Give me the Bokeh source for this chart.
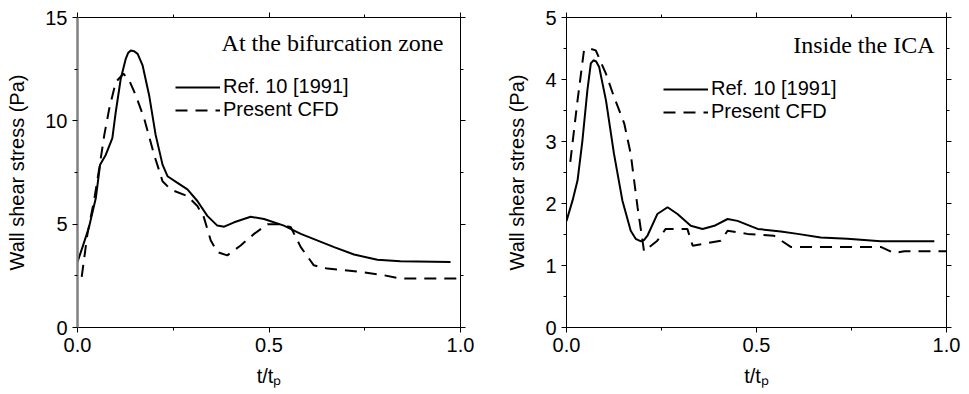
from bokeh.plotting import figure
from bokeh.models import Range1d, LinearAxis, FixedTicker, Label, Legend, LegendItem, PrintfTickFormatter
from bokeh.layouts import row
from bokeh.embed import file_html
from bokeh.resources import INLINE

# ---------------- data ----------------
# Left panel: at the bifurcation zone
bif_ref_t = [0.0, 0.015, 0.030, 0.048, 0.059, 0.074, 0.091, 0.100, 0.113, 0.126, 0.132, 0.139,
             0.148, 0.157, 0.170, 0.187, 0.204, 0.222, 0.235, 0.261, 0.287, 0.313, 0.339, 0.365,
             0.383, 0.409, 0.452, 0.487, 0.539, 0.583, 0.670, 0.722, 0.783, 0.843, 0.974]
bif_ref_w = [3.17, 4.0, 4.85, 6.28, 7.88, 8.36, 9.16, 10.44, 12.04, 13.0, 13.28, 13.40,
             13.37, 13.24, 12.68, 11.24, 9.32, 7.88, 7.32, 7.0, 6.68, 6.12, 5.40, 4.93,
             4.88, 5.09, 5.36, 5.25, 4.93, 4.53, 3.89, 3.53, 3.28, 3.20, 3.17]
bif_cfd_t = [0.011, 0.026, 0.043, 0.057, 0.070, 0.083, 0.100, 0.120, 0.135, 0.152, 0.174, 0.200,
             0.222, 0.243, 0.287, 0.313, 0.330, 0.348, 0.365, 0.391, 0.426, 0.461, 0.496, 0.530,
             0.557, 0.583, 0.617, 0.652, 0.739, 0.800, 0.843, 1.0]
bif_cfd_w = [2.45, 4.53, 6.12, 7.72, 9.32, 10.6, 11.88, 12.28, 11.96, 11.24, 10.12, 8.36,
             7.08, 6.68, 6.36, 5.88, 5.33, 4.21, 3.65, 3.49, 3.97, 4.53, 5.0, 5.0,
             4.85, 3.89, 3.01, 2.85, 2.69, 2.53, 2.37, 2.37]

# Right panel: inside the ICA
ica_ref_t = [0.0, 0.016, 0.029, 0.042, 0.055, 0.064, 0.071, 0.078, 0.086, 0.104, 0.125, 0.147,
             0.169, 0.182, 0.196, 0.204, 0.213, 0.239, 0.266, 0.292, 0.327, 0.358, 0.389, 0.424,
             0.450, 0.503, 0.564, 0.608, 0.669, 0.739, 0.827, 0.968]
ica_ref_w = [1.72, 2.05, 2.37, 3.02, 3.83, 4.26, 4.31, 4.29, 4.20, 3.66, 2.80, 2.05,
             1.56, 1.43, 1.39, 1.41, 1.48, 1.83, 1.94, 1.83, 1.64, 1.59, 1.64, 1.75,
             1.72, 1.59, 1.55, 1.51, 1.45, 1.43, 1.39, 1.39]
ica_cfd_t = [0.010, 0.029, 0.046, 0.060, 0.077, 0.104, 0.125, 0.152, 0.169, 0.187, 0.200, 0.204,
             0.239, 0.261, 0.318, 0.332, 0.406, 0.424, 0.476, 0.546, 0.590, 0.827, 0.862, 0.889, 1.0]
ica_cfd_w = [2.67, 3.66, 4.47, 4.50, 4.47, 4.09, 3.72, 3.29, 2.80, 1.94, 1.40, 1.23,
             1.40, 1.59, 1.59, 1.32, 1.40, 1.56, 1.51, 1.48, 1.30, 1.30, 1.20, 1.23, 1.23]

x_major = [0.0, 0.5, 1.0]
x_minor = [0.25, 0.75]
bif_y_major = [0, 5, 10, 15]
bif_y_minor = [2.5, 7.5, 12.5]
ica_y_major = [0, 1, 2, 3, 4, 5]
ica_y_minor = [0.5, 1.5, 2.5, 3.5, 4.5]

series_names = ["Ref. 10 [1991]", "Present CFD"]
y_label = "Wall shear stress (Pa)"
x_label = "t/t\u209a"
panel_titles = ["At the bifurcation zone", "Inside the ICA"]

SANS = "Liberation Sans"
SERIF = "Liberation Serif"


def style_axis(ax, show_labels=True):
    ax.major_tick_out = 5
    ax.major_tick_in = 0
    ax.minor_tick_out = 3
    ax.minor_tick_in = 0
    ax.major_tick_line_color = "black"
    ax.minor_tick_line_color = "black"
    ax.axis_line_color = "black"
    ax.major_label_text_font = SANS
    ax.major_label_text_color = "black"
    ax.major_label_text_font_size = "20px"
    if not show_labels:
        ax.major_label_standoff = 0


def make_panel(ref_t, ref_w, cfd_t, cfd_w, ymax, ymaj, ymin, title, width, borders,
               legend_loc, title_off, left_gray):
    bl, br, bt, bb = borders
    p = figure(width=width, height=394, output_backend="svg", toolbar_location=None,
               x_range=Range1d(0, 1.0), y_range=Range1d(0, ymax),
               min_border_left=bl, min_border_right=br, min_border_top=bt, min_border_bottom=bb,
               outline_line_color=None)
    p.grid.visible = False
    p.xaxis.ticker = FixedTicker(ticks=x_major, minor_ticks=x_minor)
    p.yaxis.ticker = FixedTicker(ticks=ymaj, minor_ticks=ymin)
    p.xaxis.formatter = PrintfTickFormatter(format="%.1f")
    for ax in p.xaxis + p.yaxis:
        style_axis(ax)
    for ax, lab, so in ((p.yaxis, y_label, 14), (p.xaxis, x_label, 10)):
        ax.axis_label = lab
        ax.axis_label_text_font = SANS
        ax.axis_label_text_font_size = "20px"
        ax.axis_label_text_font_style = "normal"
        ax.axis_label_text_color = "black"
        ax.axis_label_standoff = so
    if left_gray:
        p.yaxis.axis_line_color = "#808080"
        p.yaxis.axis_line_width = 2.5

    # mirrored tick axes (top / right) without labels
    top = LinearAxis(ticker=FixedTicker(ticks=x_major, minor_ticks=x_minor))
    right = LinearAxis(ticker=FixedTicker(ticks=ymaj, minor_ticks=ymin))
    style_axis(top, False)
    style_axis(right, False)
    top.major_label_overrides = {v: "" for v in x_major}
    right.major_label_overrides = {v: "" for v in ymaj}
    p.add_layout(top, "above")
    p.add_layout(right, "right")

    r1 = p.line(ref_t, ref_w, line_color="black", line_width=2)
    r2 = p.line(cfd_t, cfd_w, line_color="black", line_width=2, line_dash="12 8")

    leg = Legend(items=[LegendItem(label=series_names[0], renderers=[r1]),
                        LegendItem(label=series_names[1], renderers=[r2])],
                 location=legend_loc, padding=0, margin=0, spacing=0,
                 glyph_width=45, glyph_height=20, label_height=20, label_standoff=3,
                 border_line_color=None, background_fill_alpha=0,
                 label_text_font=SANS, label_text_font_size="20px", label_text_color="black")
    p.add_layout(leg, "center")

    p.add_layout(Label(x=1.0, y=ymax, x_offset=title_off[0], y_offset=title_off[1], text=title,
                       text_align="right", text_baseline="alphabetic",
                       text_font=SERIF, text_font_size="24px", text_color="black"))
    return p


p1 = make_panel(bif_ref_t, bif_ref_w, bif_cfd_t, bif_cfd_w, 15, bif_y_major, bif_y_minor,
                panel_titles[0], 480, (77, 20, 15, 66), (98, 206), (-17, -25), True)
p2 = make_panel(ica_ref_t, ica_ref_w, ica_cfd_t, ica_cfd_w, 5, ica_y_major, ica_y_minor,
                panel_titles[1], 489, (86, 23, 17, 67), (97, 204), (-12, -27), False)

layout = row(p1, p2)
open("out.html", "w").write(file_html(layout, INLINE))
